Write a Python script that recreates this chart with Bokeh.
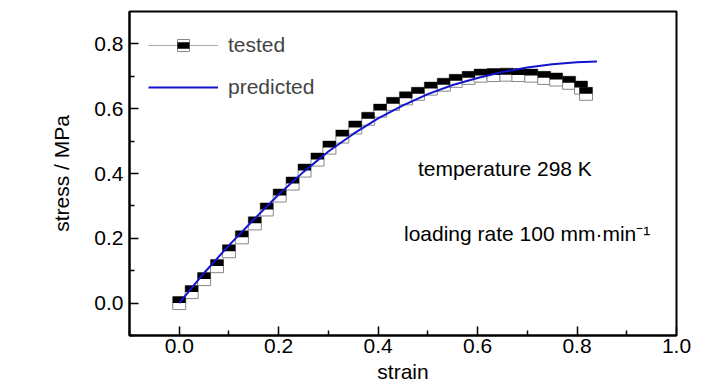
from bokeh.plotting import figure
from bokeh.models import (ColumnDataSource, Range1d, FixedTicker, PrintfTickFormatter,
                          Legend, LegendItem, Label)
from bokeh.transform import dodge
from bokeh.embed import file_html
from bokeh.resources import INLINE

# ---- data ----
tested_strain = [0.0, 0.025, 0.05, 0.076, 0.1, 0.126, 0.152, 0.176, 0.202, 0.228,
                 0.252, 0.278, 0.302, 0.328, 0.354, 0.38, 0.404, 0.43, 0.456, 0.48,
                 0.506, 0.532, 0.556, 0.582, 0.606, 0.632, 0.658, 0.682, 0.708, 0.734,
                 0.758, 0.784, 0.808, 0.818]
tested_stress = [0.0, 0.034, 0.074, 0.114, 0.16, 0.203, 0.246, 0.289, 0.332, 0.369,
                 0.409, 0.443, 0.48, 0.514, 0.542, 0.569, 0.594, 0.615, 0.632, 0.646,
                 0.662, 0.674, 0.686, 0.695, 0.702, 0.704, 0.705, 0.704, 0.702, 0.695,
                 0.69, 0.68, 0.665, 0.646]

pred_strain = [0.0, 0.05, 0.1, 0.15, 0.2, 0.25, 0.3, 0.35, 0.4, 0.45, 0.5, 0.55,
               0.6, 0.65, 0.7, 0.75, 0.8, 0.84]
pred_stress = [0.0, 0.093, 0.178, 0.258, 0.335, 0.405, 0.468, 0.522, 0.57, 0.61,
               0.645, 0.673, 0.695, 0.713, 0.727, 0.737, 0.743, 0.746]

x_ticks = [0.0, 0.2, 0.4, 0.6, 0.8, 1.0]
x_minor = [-0.1, 0.1, 0.3, 0.5, 0.7, 0.9]
y_ticks = [0.0, 0.2, 0.4, 0.6, 0.8]
y_minor = [-0.1, 0.1, 0.3, 0.5, 0.7]

series_labels = ["tested", "predicted"]
note_1 = "temperature 298 K"
note_2 = "loading rate 100 mm\u00b7min\u207b\u00b9"

FONT = "Liberation Sans"
FS = "21px"

p = figure(width=720, height=390, output_backend="svg", toolbar_location=None,
           x_range=Range1d(-0.1, 1.0), y_range=Range1d(-0.1, 0.9),
           min_border_left=129, min_border_right=44, min_border_top=11,
           min_border_bottom=55)
p.grid.visible = False
p.outline_line_color = "black"
p.outline_line_width = 2
p.background_fill_color = "white"
p.border_fill_color = "white"

src_t = ColumnDataSource(dict(strain=tested_strain, stress=tested_stress))
src_p = ColumnDataSource(dict(strain=pred_strain, stress=pred_stress))

r_tline = p.line("strain", "stress", source=src_t, line_color="#aaaaaa", line_width=1)
r_sq = p.scatter("strain", "stress", source=src_t, marker="square", size=13,
                 fill_color="white", line_color="#888888", line_width=1)
r_top = p.scatter("strain", dodge("stress", 0.0102), source=src_t, marker="dash",
                  size=13, line_color="black", line_width=6.5)
r_pred = p.line("strain", "stress", source=src_p, line_color="#1414cc", line_width=2)

for ax in (p.xaxis[0], p.yaxis[0]):
    ax.axis_line_width = 2
    ax.major_tick_in = 9
    ax.major_tick_out = 0
    ax.minor_tick_in = 5
    ax.minor_tick_out = 0
    ax.major_tick_line_width = 1.5
    ax.minor_tick_line_width = 1.5
    ax.major_label_text_font = FONT
    ax.major_label_text_font_size = FS
    ax.axis_label_text_font = FONT
    ax.axis_label_text_font_size = FS
    ax.axis_label_text_font_style = "normal"
    ax.major_label_text_color = "black"
    ax.axis_label_text_color = "black"
    ax.formatter = PrintfTickFormatter(format="%.1f")

p.xaxis[0].ticker = FixedTicker(ticks=x_ticks, minor_ticks=x_minor)
p.yaxis[0].ticker = FixedTicker(ticks=y_ticks, minor_ticks=y_minor)
p.xaxis[0].axis_label = "strain"
p.yaxis[0].axis_label = "stress / MPa"
p.xaxis[0].major_label_standoff = 3
p.xaxis[0].axis_label_standoff = 4
p.yaxis[0].major_label_standoff = 6
p.yaxis[0].axis_label_standoff = 18

legend = Legend(items=[LegendItem(label=series_labels[0], renderers=[r_tline, r_sq, r_top]),
                       LegendItem(label=series_labels[1], renderers=[r_pred])],
                location="top_left", border_line_alpha=0, background_fill_alpha=0,
                label_text_font=FONT, label_text_font_size=FS,
                glyph_width=70, glyph_height=30, label_height=30,
                label_standoff=10, spacing=12, margin=10, padding=9)
p.add_layout(legend)

p.add_layout(Label(x=0.48, y=0.415, text=note_1, text_font=FONT, text_font_size=FS,
                   text_baseline="middle", text_align="left", text_color="black"))
p.add_layout(Label(x=0.452, y=0.215, text=note_2, text_font=FONT, text_font_size=FS,
                   text_baseline="middle", text_align="left", text_color="black"))

open("out.html", "w").write(file_html(p, INLINE))
